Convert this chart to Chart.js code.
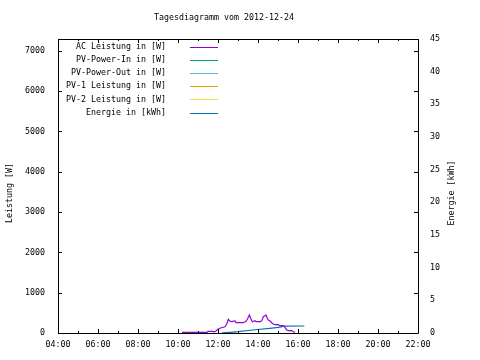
<!DOCTYPE html>
<html>
<head>
<meta charset="utf-8">
<script src="https://cdn.jsdelivr.net/npm/chart.js@4"></script>
<style>
html,body{margin:0;padding:0;background:#fff;}
canvas{display:block;}
</style>
</head>
<body>
<canvas id="c" width="480" height="360"></canvas>
<script>
const chartTitle = "Tagesdiagramm vom 2012-12-24";
const yTitle = "Leistung [W]";
const y2Title = "Energie [kWh]";
const seriesLabels = ["AC Leistung in [W]", "PV-Power-In in [W]", "PV-Power-Out in [W]", "PV-1 Leistung in [W]", "PV-2 Leistung in [W]", "Energie in [kWh]"];
const seriesColors = ["#9400d3", "#009e73", "#56b4e9", "#e69f00", "#f0e442", "#0072b2"];
const xTickLabels = ["04:00","06:00","08:00","10:00","12:00","14:00","16:00","18:00","20:00","22:00"];
const yTickLabels = ["0","1000","2000","3000","4000","5000","6000","7000"];
const y2TickLabels = ["0","5","10","15","20","25","30","35","40","45"];

const acTimes = ["10:12","11:27","11:30","11:45","11:48","11:54","12:00","12:05","12:21","12:26","12:31","12:34","12:41","12:51","12:54","13:16","13:24","13:28","13:34","13:38","13:43","13:51","13:54","14:08","14:12","14:16","14:21","14:24","14:28","14:31","14:36","14:41","14:46","14:51","15:01","15:04","15:16","15:21","15:26","15:31","15:41","15:46","15:51"];
const acValues = [17,17,42,42,25,50,92,117,156,216,340,305,280,298,255,255,290,340,446,365,280,305,280,280,322,404,430,446,365,322,298,255,223,206,206,181,181,141,74,57,57,32,17];
const pvInTimes = [];
const pvInValues = [];
const pvOutTimes = [];
const pvOutValues = [];
const pv1Times = [];
const pv1Values = [];
const pv2Times = [];
const pv2Values = [];
const energyTimes = ["12:12","12:36","13:00","13:30","14:06","14:36","15:06","15:18","16:19"];
const energyValues = [0.02,0.1,0.2,0.38,0.57,0.72,0.9,1.06,1.07];

function hours(s){ const p = s.split(":"); return +p[0] + (+p[1])/60; }
function pts(times, vals){ return times.map((t,i)=>({x:hours(t), y:vals[i]})); }

const FONT = "'DejaVu Sans Mono', 'Liberation Mono', monospace";
const FS = 8.3;

const seriesData = [
  pts(acTimes, acValues),
  pts(pvInTimes, pvInValues),
  pts(pvOutTimes, pvOutValues),
  pts(pv1Times, pv1Values),
  pts(pv2Times, pv2Values),
  pts(energyTimes, energyValues)
];

const datasets = seriesLabels.map((lab,i)=>({
  label: lab,
  data: seriesData[i],
  borderColor: seriesColors[i],
  backgroundColor: seriesColors[i],
  borderWidth: 1.2,
  pointRadius: 0,
  tension: 0,
  fill: false,
  yAxisID: i === 5 ? 'y2' : 'y'
}));

const deco = {
  id: 'deco',
  afterDraw(chart){
    const ctx = chart.ctx;
    const a = chart.chartArea;
    const xs = chart.scales.x, ys = chart.scales.y;
    ctx.save();
    ctx.font = FS + "px " + FONT;
    ctx.fillStyle = "#000";
    ctx.textAlign = "center"; ctx.textBaseline = "middle";
    ctx.fillText(chartTitle, 224, 18);
    ctx.save();
    ctx.translate(10, 193); ctx.rotate(-Math.PI/2);
    ctx.fillText(yTitle, 0, 0);
    ctx.restore();
    ctx.save();
    ctx.translate(452, 193); ctx.rotate(-Math.PI/2);
    ctx.fillText(y2Title, 0, 0);
    ctx.restore();
    ctx.strokeStyle = "#000"; ctx.lineWidth = 1;
    ctx.beginPath();
    ctx.rect(Math.round(a.left)+0.5, Math.round(a.top)+0.5, Math.round(a.right-a.left), Math.round(a.bottom-a.top));
    ctx.stroke();
    ctx.beginPath();
    for (let h = xs.min; h <= xs.max; h += 1) {
      const px = Math.round(xs.getPixelForValue(h)) + 0.5;
      const len = (h % 2 === 0) ? 4 : 2;
      ctx.moveTo(px, a.bottom); ctx.lineTo(px, a.bottom - len);
      ctx.moveTo(px, a.top); ctx.lineTo(px, a.top + len);
    }
    ys.ticks.forEach(t => {
      const py = Math.round(ys.getPixelForValue(t.value)) + 0.5;
      ctx.moveTo(a.left, py); ctx.lineTo(a.left + 4, py);
      ctx.moveTo(a.right, py); ctx.lineTo(a.right - 4, py);
    });
    ctx.stroke();
    ctx.textAlign = "right"; ctx.textBaseline = "middle";
    chart.data.datasets.forEach((ds, i) => {
      const y = 47 + i * 13.1;
      ctx.fillStyle = "#000";
      ctx.fillText(ds.label, 166, y);
      ctx.strokeStyle = ds.borderColor;
      ctx.lineWidth = 1;
      ctx.beginPath();
      ctx.moveTo(190, Math.round(y) + 0.5); ctx.lineTo(218, Math.round(y) + 0.5);
      ctx.stroke();
    });
    ctx.restore();
  }
};

new Chart(document.getElementById('c'), {
  type: 'line',
  data: { datasets },
  options: {
    responsive: false,
    animation: false,
    layout: { padding: { top: 39, left: 0, right: 0, bottom: 0 } },
    plugins: { legend: { display: false }, title: { display: false }, tooltip: { enabled: false } },
    scales: {
      x: {
        type: 'linear', min: 4, max: 22,
        grid: { display: false, drawTicks: false },
        border: { display: false },
        afterBuildTicks: s => { s.ticks = xTickLabels.map(l => ({ value: hours(l) })); },
        ticks: {
          autoSkip: false, maxRotation: 0, padding: 7, color: "#000",
          font: { family: FONT, size: FS },
          callback: (v, i) => xTickLabels[i]
        },
        afterFit: s => { s.height = 27; }
      },
      y: {
        type: 'linear', position: 'left', min: 0, max: 7290,
        grid: { display: false, drawTicks: false },
        border: { display: false },
        afterBuildTicks: s => { s.ticks = yTickLabels.map(l => ({ value: +l })); },
        ticks: { autoSkip: false, padding: 13, color: "#000", font: { family: FONT, size: FS },
          callback: (v, i) => yTickLabels[i] },
        afterFit: s => { s.width = 58; }
      },
      y2: {
        type: 'linear', position: 'right', min: 0, max: 45,
        grid: { display: false, drawTicks: false },
        border: { display: false },
        afterBuildTicks: s => { s.ticks = y2TickLabels.map(l => ({ value: +l })); },
        ticks: { autoSkip: false, padding: 12, color: "#000", font: { family: FONT, size: FS },
          callback: (v, i) => y2TickLabels[i] },
        afterFit: s => { s.width = 62; }
      }
    }
  },
  plugins: [deco]
});
</script>
</body>
</html>
